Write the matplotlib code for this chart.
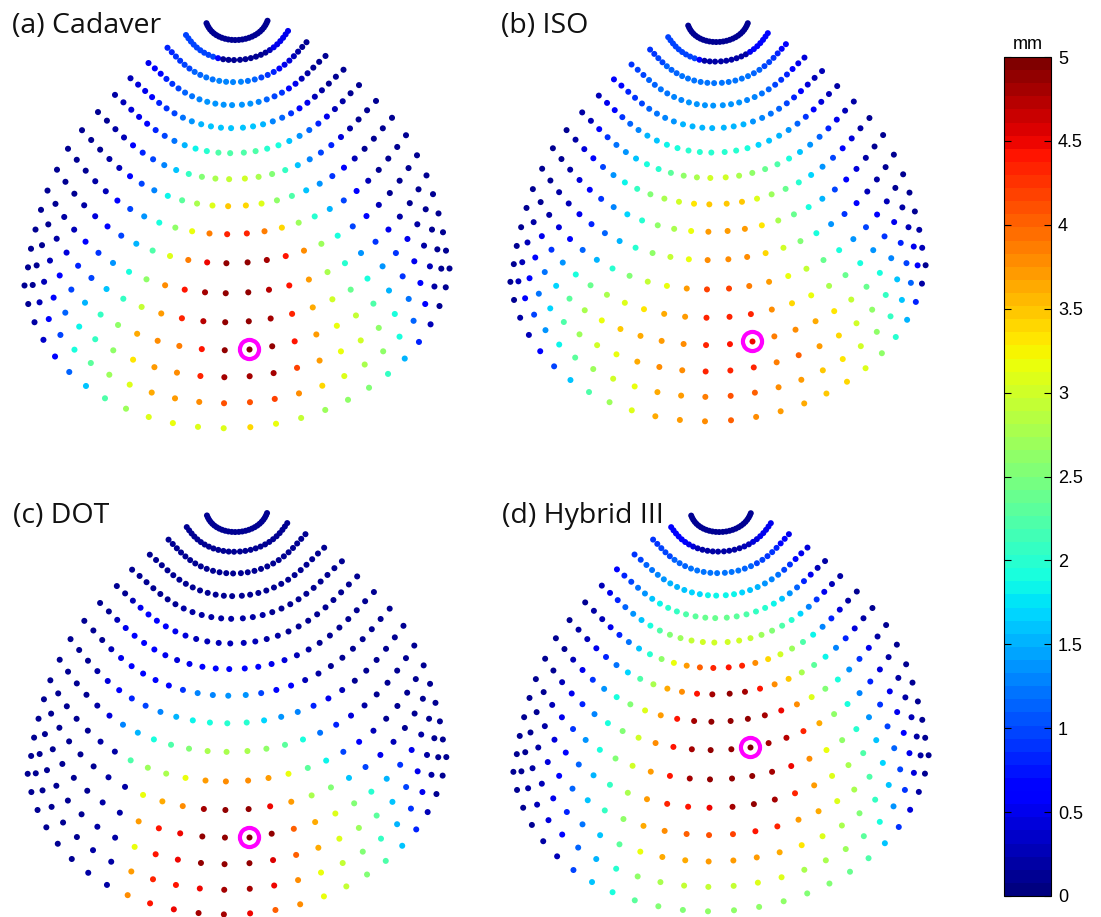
import numpy as np
import matplotlib.pyplot as plt
from matplotlib.cm import ScalarMappable
from matplotlib.colors import Normalize

W, H = 1101, 917

# ---- sensor grid: 16 rings of 26 points on the front of the head ----
ring_end_halfwidth = [30.5, 51, 69.5, 88.5, 106.5, 122, 139, 155, 169, 180,
                      189.5, 196, 201.5, 206, 209, 212.5]
ring_core_ratio = [0.88, 0.82, 0.76, 0.72, 0.72, 0.73, 0.75, 0.77, 0.80, 0.82,
                   0.84, 0.86, 0.88, 0.90, 0.92, 0.94]
ring_end_y = [22, 33, 45, 59.5, 74, 90, 106.5, 124, 142, 162.5,
              183, 202, 221.5, 240.5, 259, 277]
ring_bottom_y = [40, 60, 82, 105, 128, 153, 179, 206, 234, 263,
                 293, 322, 350, 377, 403, 428]
n_per_ring = 26

# ---- peak displacement per sensor (mm), one string per ring, left to right ----
cadaver = [
    "0.1 " * 26,
    "1.0 1.0 1.0 1.0 1.0 1.0 1.0 1.0 1.0 0.7 0.15 0.15 0.15 0.15 0.15 0.15 0.15 0.15 0.15 0.3 0.5 0.5 0.5 0.5 0.5 0.5",
    "0.8 0.8 0.9 0.9 1.0 1.0 1.1 1.1 1.2 1.2 1.3 1.3 1.3 1.3 1.2 1.1 1.0 0.9 0.8 0.6 0.5 0.4 0.3 0.2 0.15 0.1",
    "0.5 0.6 0.7 0.8 0.9 1.0 1.1 1.2 1.3 1.4 1.4 1.4 1.4 1.4 1.4 1.3 1.1 1.0 0.9 0.7 0.5 0.3 0.2 0.15 0.1 0.1",
    "0.3 0.4 0.5 0.6 0.8 0.9 1.0 1.2 1.4 1.5 1.6 1.6 1.6 1.6 1.6 1.5 1.3 1.1 0.9 0.7 0.5 0.3 0.2 0.1 0.1 0.1",
    "0.2 0.3 0.4 0.5 0.6 0.8 1.0 1.2 1.5 1.8 2.0 2.2 2.2 2.2 2.2 2.0 1.9 1.6 1.4 1.1 0.8 0.5 0.3 0.2 0.1 0.1",
    "0.1 0.15 0.2 0.3 0.6 0.8 1.0 1.3 1.6 2.1 2.5 2.8 2.9 3.0 2.8 2.5 2.1 1.6 1.3 1.0 0.8 0.4 0.2 0.15 0.1 0.1",
    "0.1 0.1 0.15 0.2 0.3 0.7 1.0 1.3 1.8 2.3 2.8 3.1 3.5 3.4 3.1 2.6 2.2 1.6 1.4 0.9 0.6 0.3 0.15 0.1 0.1 0.1",
    "0.1 0.1 0.15 0.2 0.3 0.6 1.0 1.4 1.9 2.6 3.2 3.9 4.3 4.3 3.9 3.4 2.7 2.0 1.5 1.0 0.6 0.3 0.15 0.1 0.1 0.1",
    "0.1 0.1 0.15 0.2 0.4 0.7 1.0 1.5 2.2 3.1 3.9 4.5 4.9 4.9 4.8 4.4 3.8 2.7 1.9 1.0 0.7 0.3 0.15 0.1 0.1 0.1",
    "0.1 0.1 0.2 0.3 0.6 0.9 1.4 1.9 2.6 3.8 4.4 4.8 4.9 4.9 4.7 4.4 3.7 2.8 2.0 1.4 0.9 0.5 0.2 0.1 0.1 0.1",
    "0.1 0.15 0.2 0.4 0.8 1.0 1.6 2.1 2.9 3.7 4.3 4.7 4.9 4.9 4.8 4.3 3.6 3.0 2.4 1.9 1.4 0.9 0.5 0.2 0.1 0.1",
    "0.1 0.15 0.3 0.6 1.0 1.5 2.1 2.6 3.6 3.8 3.9 4.4 4.9 5.0 4.9 4.4 3.7 3.2 2.9 2.2 1.5 0.9 0.5 0.2 0.1 0.1",
    "0.1 0.15 0.3 0.7 1.1 1.8 2.1 2.6 3.3 3.7 3.8 4.3 4.8 4.8 4.8 4.2 3.7 3.2 3.0 2.6 1.9 1.2 0.7 0.3 0.15 0.1",
    "0.1 0.15 0.3 0.7 1.0 1.9 2.3 2.7 3.1 3.6 3.7 3.8 4.1 4.1 4.2 3.8 3.4 3.1 2.8 2.6 1.9 1.1 0.6 0.2 0.1 0.1",
    "0.1 0.1 0.2 0.35 0.7 1.1 1.6 2.2 2.7 3.1 3.2 3.1 3.1 3.4 3.2 2.9 2.7 2.6 2.5 2.1 1.5 0.8 0.3 0.15 0.1 0.1",
]

iso = [
    "0.1 " * 26,
    "1.0 1.0 1.0 1.0 1.0 1.0 1.0 1.0 1.0 0.6 0.2 0.2 0.2 0.2 0.2 0.2 0.2 0.2 0.2 0.5 0.7 0.7 0.7 0.7 0.7 0.7",
    "0.9 0.9 1.0 1.0 1.1 1.1 1.1 1.2 1.2 1.2 1.2 1.2 1.2 1.2 1.2 1.2 1.2 1.2 1.1 1.1 1.0 1.0 0.9 0.8 0.7 0.6",
    "0.9 1.0 1.0 1.1 1.1 1.2 1.2 1.3 1.3 1.4 1.4 1.4 1.4 1.4 1.4 1.4 1.3 1.3 1.2 1.1 1.0 0.9 0.8 0.6 0.5 0.4",
    "0.6 0.7 0.8 0.9 1.0 1.1 1.2 1.3 1.4 1.5 1.5 1.5 1.5 1.5 1.5 1.5 1.4 1.3 1.2 1.1 1.0 0.8 0.6 0.4 0.3 0.3",
    "0.3 0.5 0.7 0.9 1.1 1.3 1.5 1.6 1.8 1.9 2.0 2.0 2.0 2.0 2.0 1.9 1.7 1.6 1.5 1.4 1.1 0.9 0.6 0.4 0.3 0.2",
    "0.2 0.3 0.6 0.9 1.2 1.4 1.6 1.9 2.0 2.3 2.6 2.8 3.0 3.0 2.8 2.6 2.4 2.2 1.9 1.6 1.4 1.1 0.8 0.5 0.3 0.2",
    "0.1 0.2 0.4 0.7 1.0 1.4 1.8 2.1 2.5 2.8 3.0 3.3 3.5 3.5 3.5 3.1 2.7 2.4 2.0 1.7 1.4 1.0 0.6 0.4 0.2 0.15",
    "0.1 0.15 0.2 0.4 0.6 0.9 1.3 1.7 2.0 2.6 2.8 3.2 3.7 3.7 3.7 3.3 2.8 2.4 1.9 1.5 1.0 0.6 0.4 0.2 0.1 0.1",
    "0.1 0.1 0.2 0.3 0.5 0.8 1.1 1.5 2.0 2.6 2.9 3.2 3.8 3.8 3.8 3.4 3.0 2.5 1.9 1.4 0.9 0.6 0.3 0.2 0.1 0.1",
    "0.1 0.1 0.2 0.4 0.7 1.1 1.5 2.0 2.5 2.9 3.2 3.7 4.2 4.2 3.9 3.7 3.2 2.9 2.4 1.9 1.4 1.0 0.6 0.3 0.15 0.1",
    "0.1 0.2 0.5 0.9 1.4 1.9 2.4 2.8 3.1 3.3 3.6 3.7 4.3 4.3 4.3 3.8 3.4 3.2 2.8 2.4 1.9 1.4 0.9 0.5 0.2 0.1",
    "0.15 0.3 0.7 1.2 1.7 2.3 2.8 3.2 3.5 3.6 3.7 3.8 4.3 4.4 4.5 3.9 3.8 3.6 3.3 2.9 2.4 1.9 1.3 0.8 0.3 0.15",
    "0.15 0.3 0.7 1.2 1.7 2.2 2.7 3.0 3.2 3.6 3.8 3.8 4.3 4.3 4.3 3.9 4.0 3.7 3.4 3.0 2.6 2.1 1.6 1.0 0.5 0.2",
    "0.15 0.3 0.6 1.0 1.4 1.8 2.3 2.7 3.0 3.2 3.6 3.7 3.9 4.1 4.0 3.8 3.7 3.5 3.3 3.0 2.6 2.1 1.6 1.1 0.6 0.3",
    "0.1 0.1 0.2 0.3 0.6 1.0 1.6 2.2 2.7 3.1 3.6 3.7 3.8 4.0 3.8 3.7 3.6 3.5 3.4 3.1 2.6 2.0 1.5 0.8 0.2 0.1",
]

dot = [
    "0.1 " * 26,
    "0.1 " * 26,
    "0.1 " * 26,
    "0.1 " * 26,
    "0.1 0.1 0.1 0.1 0.1 0.1 0.15 0.2 0.2 0.2 0.2 0.2 0.2 0.2 0.2 0.2 0.15 0.1 0.1 0.1 0.1 0.1 0.1 0.1 0.1 0.1",
    "0.1 0.15 0.3 0.5 0.6 0.6 0.6 0.5 0.4 0.3 0.3 0.3 0.3 0.3 0.3 0.2 0.2 0.15 0.1 0.1 0.1 0.1 0.1 0.1 0.1 0.1",
    "0.1 0.1 0.3 0.5 0.6 0.6 0.6 0.5 0.4 0.5 0.6 0.7 0.7 0.7 0.7 0.5 0.4 0.3 0.2 0.15 0.1 0.1 0.1 0.1 0.1 0.1",
    "0.1 0.1 0.15 0.3 0.5 0.6 0.7 0.7 0.7 0.9 1.3 1.3 1.4 1.4 1.0 0.7 0.6 0.3 0.2 0.15 0.1 0.1 0.1 0.1 0.1 0.1",
    "0.1 0.1 0.15 0.2 0.4 0.6 0.8 1.0 1.3 1.5 1.8 1.9 2.0 2.0 1.7 1.4 1.3 0.8 0.5 0.3 0.15 0.1 0.1 0.1 0.1 0.1",
    "0.1 0.1 0.1 0.15 0.2 0.4 1.3 1.5 1.9 2.2 2.5 2.8 2.8 2.8 2.6 2.3 1.9 1.2 0.8 0.4 0.2 0.1 0.1 0.1 0.1 0.1",
    "0.1 0.1 0.1 0.1 0.15 0.2 0.2 2.2 2.7 2.8 3.2 3.7 3.8 3.8 3.7 3.2 2.3 1.8 1.0 0.6 0.3 0.15 0.1 0.1 0.1 0.1",
    "0.1 0.1 0.1 0.1 0.1 0.15 0.2 0.2 3.2 3.6 3.8 4.8 4.9 4.9 4.5 3.7 2.8 2.5 1.6 1.0 0.5 0.3 0.15 0.1 0.1 0.1",
    "0.1 0.1 0.1 0.1 0.15 0.15 0.2 0.2 3.7 4.4 4.5 4.9 4.9 5.0 4.9 4.0 3.6 3.1 2.5 2.0 1.5 0.9 0.5 0.2 0.1 0.1",
    "0.1 0.1 0.1 0.1 0.15 0.15 0.2 0.2 3.2 4.4 4.5 4.9 4.9 4.9 4.6 4.0 3.6 3.1 2.7 2.3 1.6 1.0 0.5 0.2 0.1 0.1",
    "0.1 0.1 0.1 0.1 0.15 0.15 0.2 0.2 3.7 4.3 4.4 4.5 4.8 4.8 4.5 3.8 3.2 2.9 2.5 2.1 1.5 0.9 0.5 0.2 0.1 0.1",
    "0.1 0.1 0.1 0.1 0.1 0.15 0.2 0.2 3.8 4.4 4.5 4.8 4.8 4.5 4.0 3.8 3.2 2.9 2.5 2.2 1.6 0.8 0.3 0.15 0.1 0.1",
]

hybrid3 = [
    "0.15 " * 26,
    "0.6 0.6 0.6 0.6 0.6 0.6 0.5 0.4 0.3 0.2 0.2 0.2 0.2 0.2 0.2 0.2 0.2 0.3 0.3 0.4 0.4 0.5 0.5 0.5 0.5 0.5",
    "0.9 0.9 1.0 1.0 1.0 1.1 1.1 1.1 1.2 1.2 1.2 1.2 1.2 1.2 1.2 1.2 1.1 1.1 1.0 1.0 0.9 0.9 0.8 0.7 0.6 0.5",
    "0.9 1.0 1.1 1.2 1.3 1.4 1.5 1.5 1.6 1.7 1.7 1.8 1.8 1.8 1.8 1.7 1.6 1.5 1.4 1.3 1.2 1.0 0.9 0.7 0.5 0.4",
    "0.6 0.8 1.0 1.2 1.4 1.6 1.8 2.0 2.1 2.2 2.3 2.4 2.4 2.4 2.3 2.2 2.1 2.0 1.8 1.6 1.4 1.1 0.8 0.5 0.3 0.2",
    "0.3 0.5 0.8 1.1 1.4 1.6 1.9 2.2 2.5 2.7 2.9 3.0 3.0 3.0 3.0 2.9 2.7 2.5 2.2 2.0 1.7 1.3 0.9 0.5 0.3 0.2",
    "0.1 0.2 0.3 0.5 0.8 1.2 1.6 2.0 2.6 3.2 3.7 4.0 4.3 4.4 4.3 3.8 3.4 3.0 2.7 2.2 1.8 1.3 0.8 0.4 0.2 0.1",
    "0.1 0.2 0.3 0.5 0.8 1.2 1.7 2.2 2.8 3.6 3.8 4.4 4.8 4.9 4.8 4.4 3.8 3.5 2.8 2.3 1.8 1.3 0.8 0.4 0.2 0.1",
    "0.1 0.15 0.3 0.5 0.9 1.4 1.9 2.5 3.1 3.7 4.4 4.8 4.9 4.9 4.9 4.8 4.5 3.8 3.1 2.5 1.9 1.4 0.9 0.5 0.2 0.1",
    "0.1 0.15 0.3 0.5 0.8 1.3 1.9 2.5 3.0 3.8 4.4 4.8 4.9 4.9 5.0 4.8 4.7 4.3 3.6 2.6 1.9 1.3 0.8 0.4 0.2 0.1",
    "0.1 0.15 0.3 0.5 0.9 1.4 1.9 2.5 3.0 3.7 4.4 4.8 4.9 4.9 4.9 4.8 4.5 3.8 3.2 2.6 2.0 1.4 0.9 0.5 0.2 0.1",
    "0.1 0.15 0.2 0.4 0.7 1.1 1.5 2.1 2.8 3.7 4.3 4.4 4.5 4.8 4.9 4.8 4.3 3.7 3.1 2.8 2.2 1.6 1.0 0.5 0.2 0.1",
    "0.1 0.15 0.2 0.4 0.7 1.1 1.6 2.1 2.6 3.6 3.8 4.0 4.1 4.2 4.4 4.3 3.7 3.6 3.1 2.8 2.2 1.7 1.1 0.6 0.3 0.1",
    "0.1 0.1 0.2 0.3 0.5 0.8 1.2 1.6 2.3 3.2 3.6 3.6 3.7 3.7 3.7 3.6 3.3 3.1 2.8 2.5 2.1 1.6 1.0 0.5 0.2 0.1",
    "0.1 0.1 0.2 0.3 0.4 0.7 1.1 1.5 2.0 2.6 2.8 2.9 2.9 2.9 3.1 3.1 2.8 2.8 2.7 2.3 1.9 1.4 0.9 0.4 0.2 0.1",
    "0.1 0.1 0.1 0.1 0.2 0.3 1.0 1.6 1.9 2.3 2.5 2.5 2.6 2.6 2.6 2.6 2.5 2.5 2.4 2.2 1.6 0.9 0.4 0.2 0.1 0.1",
]

panel_titles = ["(a) Cadaver", "(b) ISO", "(c) DOT", "(d) Hybrid III"]
panel_values = [cadaver, iso, dot, hybrid3]
impact_ring = [12, 12, 12, 9]
impact_point = [13, 14, 13, 14]

# placement of each panel: grid centre x, top-ring y, scale (figure pixels)
panel_origin = [(237, 40, 1.0), (718, 42, 0.977), (237, 532, 0.985), (721, 532, 0.977)]
title_pos = [(12, 33), (501, 33), (13, 523), (502, 523)]


def sensor_grid():
    phi0 = np.radians(-2.5)
    phi = phi0 + np.radians(7.4) * np.arange(n_per_ring)
    psi = np.minimum(phi, np.pi - phi) - phi0
    side = np.sign(np.cos(phi))
    xs, ys = [], []
    for E, r, Y, B in zip(ring_end_halfwidth, ring_core_ratio, ring_end_y, ring_bottom_y):
        a = E * r
        flare = (E - a * np.cos(phi0)) * np.exp(-psi / np.radians(26))
        x = 237 - (a * np.cos(phi) + side * flare)
        y = Y + (B - Y) * (np.sin(phi) - np.sin(phi0)) / (1 - np.sin(phi0))
        y = y - 0.04 * (x - 237)
        xs.append(x)
        ys.append(y)
    return np.array(xs), np.array(ys)


gx, gy = sensor_grid()
cmap = plt.get_cmap("jet", 64)
norm = Normalize(0, 5)

fig = plt.figure(figsize=(W / 100, H / 100), dpi=100)
box_x, box_y = (0, 480), (0, 445)
dot_size = 19

for k in range(4):
    ox, oy, s = panel_origin[k]
    left = ox + s * (box_x[0] - 237)
    right = ox + s * (box_x[1] - 237)
    top = oy + s * (box_y[0] - 40)
    bottom = oy + s * (box_y[1] - 40)
    ax = fig.add_axes([left / W, 1 - bottom / H, (right - left) / W, (bottom - top) / H])
    ax.set_xlim(*box_x)
    ax.set_ylim(box_y[1], box_y[0])
    ax.axis("off")

    vals = np.array([np.array(r.split(), float) for r in panel_values[k]])
    ax.scatter(gx.ravel(), gy.ravel(), c=vals.ravel(), cmap=cmap, norm=norm,
               s=dot_size * s, linewidths=0, clip_on=False)

    ri, pj = impact_ring[k], impact_point[k]
    ax.scatter([gx[ri, pj]], [gy[ri, pj]], s=190, facecolors="white",
               edgecolors="#ff00ff", linewidths=3.0, clip_on=False, zorder=3)
    ax.scatter([gx[ri, pj]], [gy[ri, pj]], c=[vals[ri, pj]], cmap=cmap, norm=norm,
               s=dot_size * s, linewidths=0, clip_on=False, zorder=4)

    tx, ty = title_pos[k]
    fig.text(tx / W, 1 - ty / H, panel_titles[k], fontsize=20.5,
             family="Open Sans", va="baseline", ha="left", color="#111111")

# colour bar
cb_left, cb_right, cb_top, cb_bottom = 1004, 1051, 57, 896
cax = fig.add_axes([cb_left / W, 1 - cb_bottom / H,
                    (cb_right - cb_left) / W, (cb_bottom - cb_top) / H])
sm = ScalarMappable(norm=norm, cmap=cmap)
cb = fig.colorbar(sm, cax=cax)
ticks = np.arange(0, 5.01, 0.5)
cb.set_ticks(ticks)
cb.set_ticklabels([f"{t:g}" for t in ticks])
cax.tick_params(direction="in", length=5, width=0.8, left=True, right=True,
                labelleft=False, labelright=True, labelsize=13, pad=5)
for lab in cax.get_yticklabels():
    lab.set_family("Liberation Sans")
cb.outline.set_linewidth(0.8)
fig.text((cb_left + cb_right) / 2 / W, 1 - 49 / H, "mm", ha="center",
         va="baseline", fontsize=13, family="Liberation Sans")

fig.savefig("out.png", dpi=100)
